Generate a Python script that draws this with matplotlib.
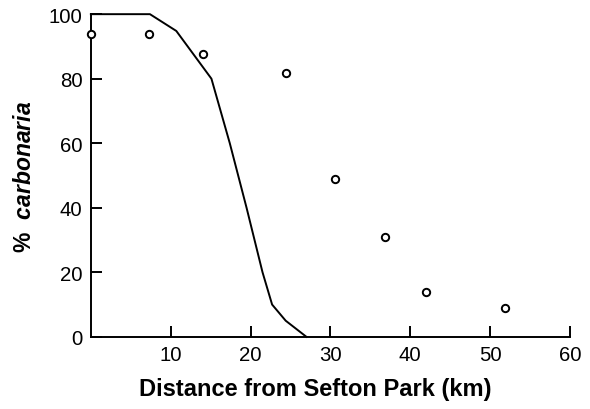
import matplotlib
matplotlib.use("Agg")
import matplotlib.pyplot as plt

# Observed data (open circles)
obs_x = [0.0, 7.3, 14.0, 24.4, 30.6, 36.9, 42.0, 51.9]
obs_y = [93.8, 93.8, 87.8, 81.9, 48.9, 31.0, 13.9, 9.0]

# Model curve (solid line)
line_x = [0.0, 7.4, 10.7, 15.1, 17.4, 19.5, 21.5, 22.7, 24.4, 27.0]
line_y = [100, 100, 94.8, 80, 60, 40, 20, 10, 5, 0]

xticks = [10, 20, 30, 40, 50, 60]
yticks = [0, 20, 40, 60, 80, 100]

plt.rcParams['font.family'] = ['Liberation Sans', 'DejaVu Sans']
plt.rcParams['mathtext.fontset'] = 'custom'
plt.rcParams['mathtext.bf'] = 'Liberation Sans:bold'
plt.rcParams['mathtext.it'] = 'Liberation Sans:italic:bold'
plt.rcParams['mathtext.rm'] = 'Liberation Sans'

fig = plt.figure(figsize=(5.9, 4.1), dpi=100)
ax = fig.add_axes([0.154, 0.176, 0.812, 0.787])

ax.plot(line_x, line_y, color='black', lw=1.4, clip_on=False)
ax.plot(obs_x, obs_y, linestyle='none', marker='o', ms=5.3, mfc='white',
        mec='black', mew=1.4, clip_on=False, zorder=3)

ax.set_xlim(0, 60)
ax.set_ylim(0, 100)
ax.set_xticks(xticks)
ax.set_yticks(yticks)
ax.tick_params(direction='in', length=8, width=1.4, labelsize=14.7, pad=6)
for s in ['top', 'right']:
    ax.spines[s].set_visible(False)
for s in ['left', 'bottom']:
    ax.spines[s].set_linewidth(1.4)

ax.set_xlabel('Distance from Sefton Park (km)', fontsize=17, fontweight='bold', labelpad=11)
ax.xaxis.set_label_coords(0.468, -0.125)
ax.xaxis.label.set_verticalalignment('top')
ax.set_ylabel(r'$\mathbf{\%}\ \ \mathit{carbonaria}$', fontsize=16.5, labelpad=9)

fig.savefig('out.png', dpi=100)
